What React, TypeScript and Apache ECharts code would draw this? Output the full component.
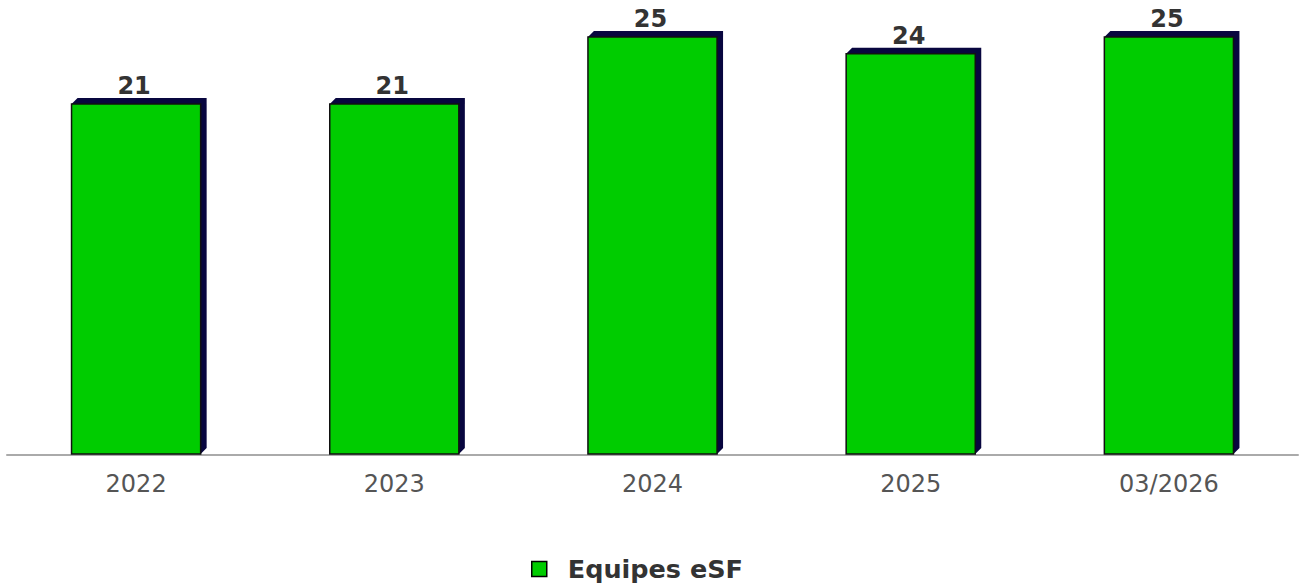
import React, { useEffect, useRef } from "react";
import * as echarts from "echarts";

const categories = ["2022", "2023", "2024", "2025", "03/2026"];
const values = [21, 21, 25, 24, 25];
const seriesName = "Equipes eSF";

const GREEN = "#00cc00";
const DARK = "#08063f";
const DEPTH = 6;

export default function App() {
  const ref = useRef<HTMLDivElement>(null);
  useEffect(() => {
    if (!ref.current) return;
    const chart = echarts.init(ref.current, null, { renderer: "svg" });
    chart.setOption({
      animation: false,
      grid: { left: 7, right: 2, top: 37, bottom: 132, containLabel: false },
      xAxis: {
        type: "category",
        data: categories,
        axisLine: { show: true, lineStyle: { color: "#aaaaaa", width: 2 } },
        axisTick: { show: false },
        axisLabel: {
          color: "#555555",
          fontFamily: "DejaVu Sans",
          fontSize: 24,
          margin: 17,
        },
      },
      yAxis: {
        type: "value",
        min: 0,
        max: 25,
        show: false,
        splitLine: { show: false },
      },
      legend: {
        left: 526,
        top: 551,
        data: [
          {
            name: seriesName,
            icon: "rect",
            itemStyle: { color: GREEN, borderColor: "#000000", borderWidth: 1.5 },
          },
        ],
        itemWidth: 15,
        itemHeight: 15,
        textStyle: {
          color: "#333333",
          fontFamily: "DejaVu Sans",
          fontWeight: "bold",
          fontSize: 25.5,
          padding: [0, 0, 0, 16],
        },
      },
      series: [
        {
          type: "custom",
          name: seriesName,
          data: values.map((v, i) => [i, v]),
          encode: { x: 0, y: 1 },
          renderItem: (params: any, api: any) => {
            const top = api.coord([api.value(0), api.value(1)]);
            const base = api.coord([api.value(0), 0]);
            const band = api.size([1, 0])[0];
            const w = band * 0.5;
            const x0 = top[0] - w / 2;
            const x1 = top[0] + w / 2;
            const y0 = top[1];
            const yb = base[1] - 1;
            const d = DEPTH;
            return {
              type: "group",
              children: [
                {
                  type: "polygon",
                  shape: {
                    points: [
                      [x0, y0],
                      [x0 + d, y0 - d],
                      [x1 + d, y0 - d],
                      [x1 + d, yb - d],
                      [x1, yb],
                      [x0, yb],
                    ],
                  },
                  style: { fill: DARK },
                },
                {
                  type: "rect",
                  shape: { x: x0, y: y0, width: w, height: yb - y0 },
                  style: { fill: GREEN, stroke: "#111111", lineWidth: 1.5 },
                },
                {
                  type: "text",
                  x: top[0] - 2,
                  y: y0 - d,
                  style: {
                    text: String(api.value(1)),
                    fill: "#333333",
                    font: "bold 24px 'DejaVu Sans'",
                    textAlign: "center",
                    textVerticalAlign: "bottom",
                  },
                },
              ],
            };
          },
        },
      ],
    });
    return () => chart.dispose();
  }, []);
  return (
    <div
      ref={ref}
      style={{ position: "fixed", left: 0, top: 0, width: 1300, height: 587, background: "#ffffff" }}
    />
  );
}
